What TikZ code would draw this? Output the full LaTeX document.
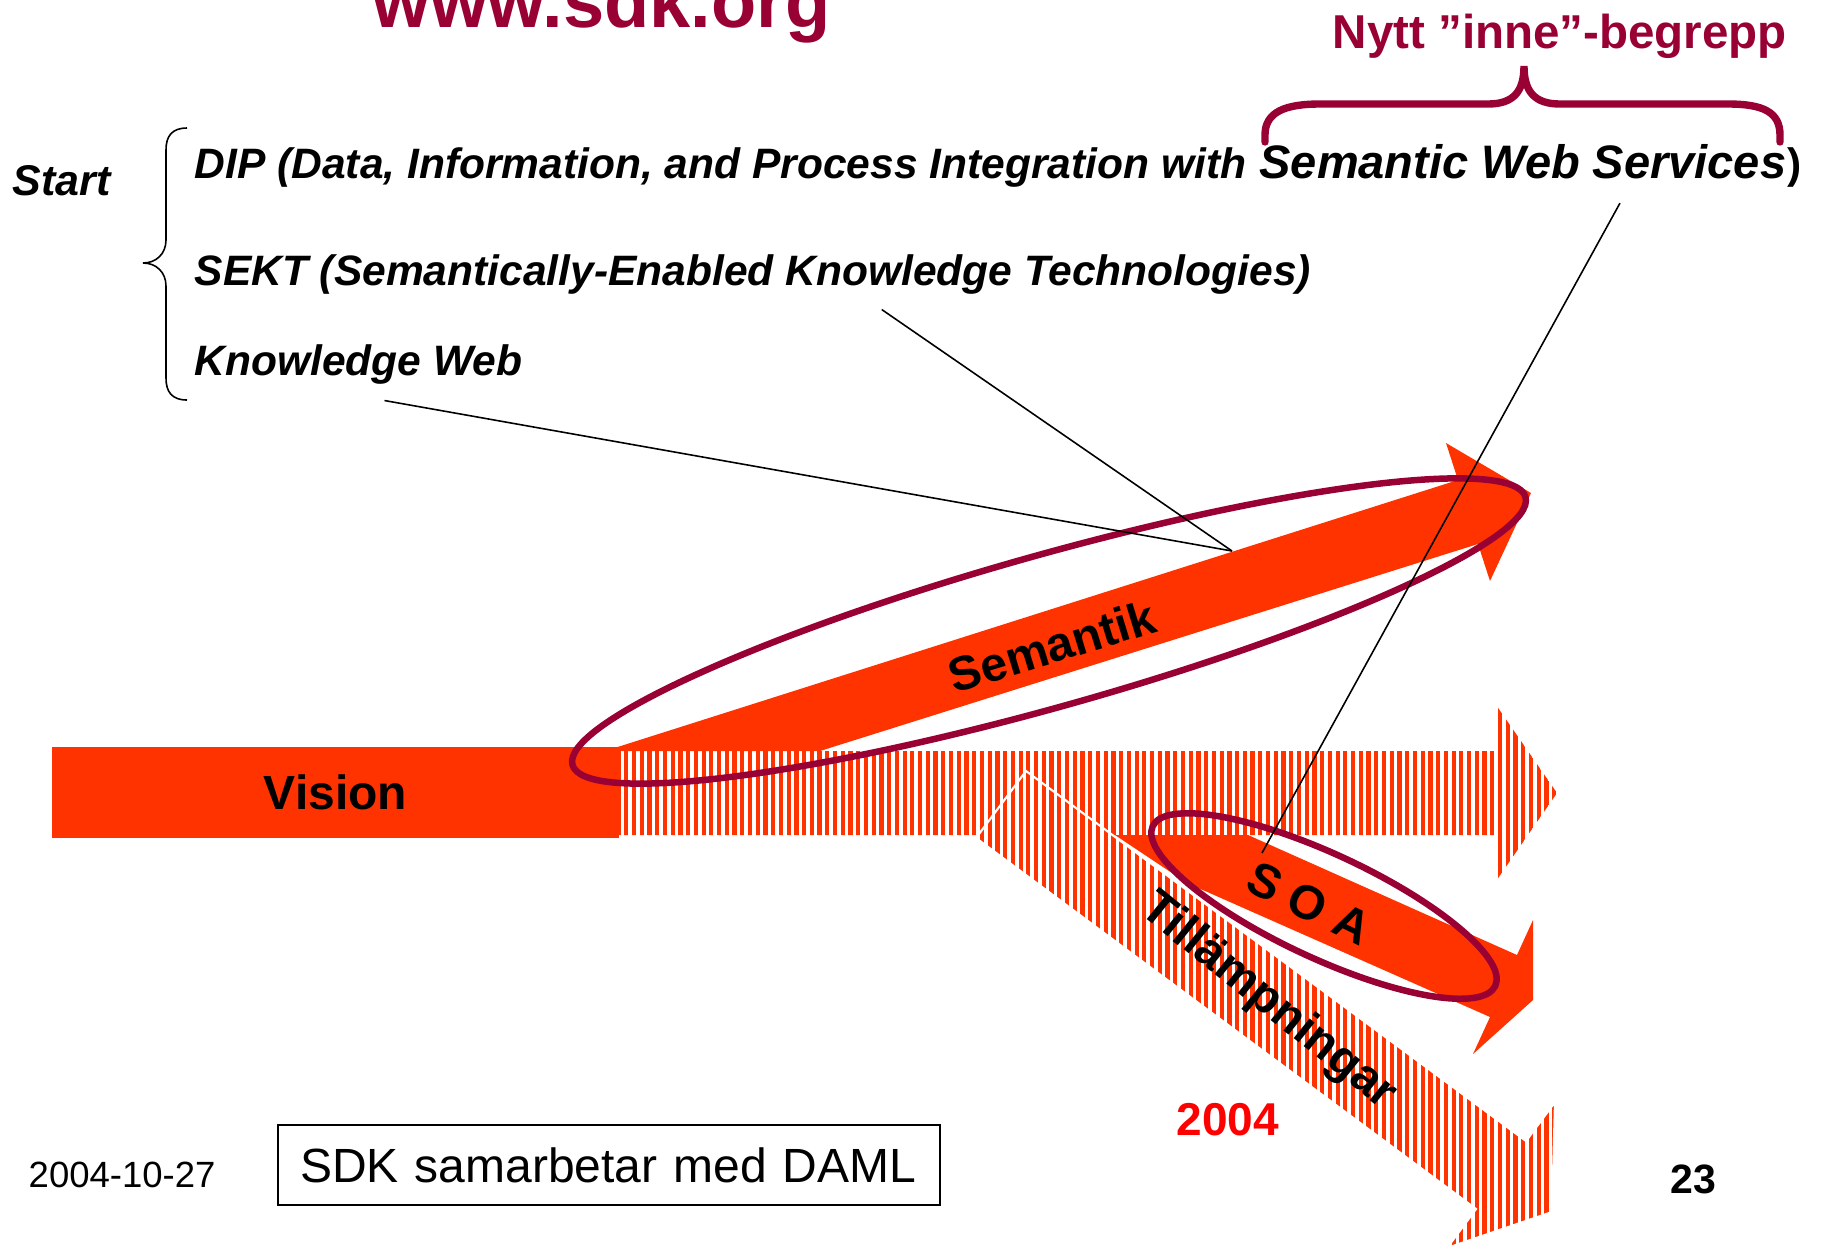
\documentclass[tikz,border=0pt]{standalone}
\usepackage{fontspec}
\setmainfont{Liberation Sans}
\usetikzlibrary{patterns.meta}
\definecolor{arrowred}{HTML}{FF3300}
\definecolor{wine}{HTML}{990033}
\definecolor{yearred}{HTML}{FF0000}
\newcommand{\setfs}[1]{\fontsize{#1}{#1}\selectfont}

\begin{document}
\begin{tikzpicture}[x=0.1mm,y=-0.1mm,
        txt/.style={inner sep=0pt,anchor=base west,font=\bfseries\itshape\setfs{12.1pt}},
        bandtext/.style={inner sep=0pt,font=\bfseries\setfs{13.66pt}},
        solidarrow/.style={fill=arrowred},
        hatcharrow/.style={pattern={Lines[angle=90,distance=2.2pt,line width=1.2pt]},pattern color=arrowred},
        ringmark/.style={draw=wine,line width=1.85pt},
        leader/.style={line width=0.45pt}]
\useasboundingbox (0,0) rectangle (1836,1245);

\node[inner sep=0pt,anchor=base west,text=wine,font=\bfseries\setfs{21.06pt}] (site) at (372,27) {www.sdk.org};
\node[inner sep=0pt,anchor=base west,text=wine,font=\bfseries\setfs{13.52pt}] (nytt) at (1332,48) {Nytt ”inne”-begrepp};

\node[txt,font=\bfseries\itshape\setfs{12.23pt}] (start) at (12,195) {Start};
\node[txt] (dip) at (194,178) {DIP (Data, Information, and Process Integration with};
\node[txt,font=\bfseries\itshape\setfs{13.37pt}] (sws) at ([xshift=1.2mm]dip.base east) {Semantic Web Services};
\node[txt,font=\bfseries\setfs{12.1pt}] (paren) at (sws.base east) {)};
\node[txt] (sekt) at (194,285) {SEKT (Semantically-Enabled Knowledge Technologies)};
\node[txt] (kw) at (194,375) {Knowledge Web};

\draw[line width=0.45pt] (187,128) .. controls (172,128) and (166,136) .. (166,150) -- (166,240)
    .. controls (166,254) and (156,263) .. (143,263) .. controls (156,263) and (166,272) .. (166,286)
    -- (166,378) .. controls (166,392) and (172,400) .. (187,400);
\draw[wine,line width=2.1pt,line cap=round] (1265,142) -- (1265,135) .. controls (1265,112) and (1285,104) .. (1320,104)
    -- (1488,104) .. controls (1513,104) and (1524,92) .. (1524,66) .. controls (1524,92) and (1535,104) .. (1560,104)
    -- (1728,104) .. controls (1763,104) and (1780,112) .. (1780,135) -- (1780,142);

\fill[hatcharrow] (619,751) -- (1494,751) -- (1494,702) -- (1557,793) -- (1494,884) -- (1494,835) -- (619,835) -- cycle;
\filldraw[hatcharrow,draw=white,line width=0.6pt] (1026,771) -- (1526,1141) -- (1555,1102) -- (1552,1212)
    -- (1447,1248) -- (1476,1209) -- (976,838) -- cycle;

\node[fill=arrowred,minimum width=56.7mm,minimum height=9.1mm,inner sep=0pt,font=\bfseries\setfs{13.66pt}] (vision) at (335.5,792.5) {Vision};

\fill[solidarrow] (605,751) -- (1458,480) -- (1446,443) -- (1531,493) -- (1490,581) -- (1478,544) -- (820,751) -- cycle;
\fill[solidarrow] (1115,835) -- (1248,835) -- (1517,955) -- (1533,920) -- (1533,1000) -- (1473,1054) -- (1490,1017) -- (1187,883) -- cycle;

\draw[ringmark] (1049,631) ellipse [x radius=49.5mm, y radius=7.6mm, rotate=15.7];
\draw[ringmark] (1324,906) ellipse [x radius=18.9mm, y radius=5.2mm, rotate=-25];

\node[bandtext,rotate=17] (semlbl) at (1052,646) {Semantik};
\node[bandtext,rotate=-26] (soalbl) at (1309,903) {S O A};
\node[bandtext,rotate=-39] (tillbl) at (1268,1002) {Tillämpningar};

\coordinate (semhit) at (1232,551);
\coordinate (soahit) at (1262,853);
\draw[leader] ([xshift=2.6mm,yshift=-1.6mm]kw.south) -- (semhit);
\draw[leader] ([xshift=12.9mm,yshift=-1.5mm]sekt.south) -- (semhit);
\draw[leader] ([xshift=9.7mm,yshift=-2.4mm]sws.south) -- (soahit);

\node[inner sep=0pt,anchor=base west,font=\setfs{10.39pt}] (date) at (28,1187) {2004-10-27};
\node[draw,line width=0.6pt,text width=61.8mm,align=left,inner xsep=2.2mm,inner ysep=0pt,minimum height=8mm,font=\setfs{13.66pt}] (daml) at (609,1165) {SDK samarbetar med DAML};
\node[inner sep=0pt,text=yearred,font=\bfseries\setfs{13.1pt}] (year) at (1228,1120) {2004};
\node[inner sep=0pt,font=\bfseries\setfs{11.67pt}] (page) at (1693,1179) {23};
\end{tikzpicture}
\end{document}
